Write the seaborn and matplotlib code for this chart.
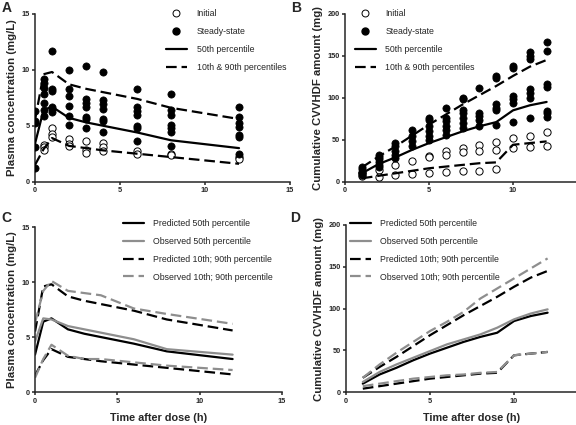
import matplotlib
matplotlib.use("Agg")
import matplotlib.pyplot as plt
from matplotlib.lines import Line2D
import seaborn as sns
import pandas as pd

# ---- panel A: plasma concentration, observed points ----
ss_conc_t = [0]*5 + [0.5]*7 + [1]*6 + [2]*6 + [3]*7 + [4]*7 + [6]*7 + [8]*7 + [12]*7
ss_conc = [6.3, 5.4, 5.2, 3.1, 1.2,
           9.2, 8.8, 8.4, 7.8, 7.0, 6.4, 5.9,
           11.7, 8.3, 8.1, 6.7, 6.5, 6.2,
           10.0, 8.3, 7.7, 6.8, 5.9, 5.1,
           10.3, 7.4, 7.0, 6.7, 5.8, 5.6, 4.8,
           9.8, 7.3, 6.9, 6.5, 5.6, 5.4, 4.4,
           8.3, 6.7, 6.3, 6.0, 5.0, 4.8, 3.6,
           7.8, 6.4, 6.0, 5.1, 4.8, 4.4, 3.2,
           6.7, 5.8, 5.2, 4.9, 4.2, 4.0, 2.5]
init_conc_t = [0.5]*3 + [1]*3 + [2]*3 + [3]*3 + [4]*3 + [6]*2 + [8]*2 + [12]*2
init_conc = [3.3, 3.1, 2.8,
             4.8, 4.3, 4.0,
             3.8, 3.4, 3.2,
             3.6, 2.8, 2.6,
             3.5, 3.1, 2.7,
             2.7, 2.5,
             2.5, 2.4,
             2.2, 2.0]

# predicted / observed percentiles for concentration
conc_t = [0, 0.5, 1, 2, 3, 4, 6, 8, 12]
pred_conc_p50 = [3.4, 6.4, 6.7, 5.7, 5.3, 5.0, 4.4, 3.7, 3.0]
pred_conc_p90 = [5.5, 9.6, 9.8, 8.7, 8.3, 8.0, 7.4, 6.6, 5.6]
pred_conc_p10 = [1.5, 2.9, 3.9, 3.2, 3.0, 2.8, 2.5, 2.2, 1.6]
obs_conc_p50 = [4.6, 6.7, 6.6, 6.0, 5.7, 5.4, 4.8, 3.9, 3.4]
obs_conc_p90 = [6.3, 9.2, 10.1, 9.2, 9.0, 8.8, 7.6, 7.1, 6.2]
obs_conc_p10 = [1.3, 3.0, 4.3, 3.3, 3.0, 3.0, 2.7, 2.4, 2.0]

# ---- panel B: cumulative CVVHDF amount, observed points ----
ss_amt_t = [1]*5 + [2]*6 + [3]*5 + [4]*4 + [5]*6 + [6]*6 + [7]*7 + [8]*5 + [9]*6 + [10]*6 + [11]*7 + [12]*7
ss_amt = [18, 15, 12, 10, 8,
          32, 30, 27, 24, 20, 17,
          46, 42, 36, 32, 28,
          61, 54, 48, 42,
          76, 74, 66, 60, 54, 50,
          88, 76, 72, 66, 62, 56,
          100, 98, 86, 82, 76, 70, 64,
          112, 82, 78, 74, 66,
          126, 124, 92, 88, 86, 68,
          138, 136, 102, 98, 94, 71,
          154, 150, 146, 110, 106, 100, 76,
          167, 156, 116, 113, 84, 82, 77]
init_amt_t = [1]*2 + [2]*2 + [3]*2 + [4]*2 + [5]*3 + [6]*3 + [7]*3 + [8]*3 + [9]*3 + [10]*2 + [11]*2 + [12]*2
init_amt = [10, 7,
            14, 6,
            20, 8,
            25, 9,
            31, 29, 10,
            36, 32, 11,
            40, 35, 13,
            44, 37, 13,
            47, 38, 15,
            52, 40,
            55, 41,
            59, 42]

amt_t = [1, 2, 3, 4, 5, 6, 7, 8, 9, 10, 11, 12]
pred_amt_p50 = [10, 21, 29, 38, 46, 53, 60, 66, 71, 85, 91, 95]
pred_amt_p90 = [17, 30, 42, 55, 68, 80, 92, 103, 114, 126, 137, 145]
pred_amt_p10 = [4, 7, 10, 13, 16, 18, 20, 22, 23, 44, 46, 48]
obs_amt_p50 = [12, 24, 33, 41, 49, 57, 63, 69, 77, 87, 94, 99]
obs_amt_p90 = [17, 33, 47, 60, 73, 84, 96, 112, 124, 136, 148, 160]
obs_amt_p10 = [7, 10, 13, 16, 18, 20, 21, 23, 24, 44, 46, 48]

sns.set_style("ticks")
plt.rcParams['font.family'] = ['Liberation Sans', 'DejaVu Sans']

GRAY = "#8e8e8e"
DASH = (0, (4.8, 2.2))
LW = 1.6

fig = plt.figure(figsize=(5.76, 4.25), dpi=100)
axA = fig.add_axes([0.0608, 0.5725, 0.4427, 0.395])
axB = fig.add_axes([0.599, 0.5725, 0.4375, 0.395])
axC = fig.add_axes([0.0608, 0.0776, 0.4288, 0.388])
axD = fig.add_axes([0.6007, 0.0776, 0.4375, 0.393])


def style_axis(ax, ymax, ystep, ylabel, xticks, xlabel=None):
    ax.set_xlim(0, 15)
    ax.set_ylim(0, ymax)
    ax.set_xticks(xticks)
    ax.set_yticks(range(0, ymax + 1, ystep))
    sns.despine(ax=ax)
    for s in ["left", "bottom"]:
        ax.spines[s].set_linewidth(1.1)
    ax.tick_params(width=1.1, length=2.5, labelsize=5.3, pad=1.5)
    for lab in ax.get_xticklabels() + ax.get_yticklabels():
        lab.set_fontweight("bold")
    ax.set_ylabel(ylabel, fontsize=8.2, fontweight="bold", labelpad=3)
    if xlabel:
        ax.set_xlabel(xlabel, fontsize=7.8, fontweight="bold", labelpad=6)
    else:
        ax.set_xlabel("")


def draw_obs_panel(ax, st, sv, it, iv, t, p50, p10, p90):
    sns.scatterplot(x=it, y=iv, ax=ax, marker="o", s=27, color="white",
                    edgecolor="black", linewidth=0.7, zorder=3)
    sns.scatterplot(x=st, y=sv, ax=ax, marker="o", s=27, color="black",
                    edgecolor="black", linewidth=0.5, zorder=3)
    sns.lineplot(x=t, y=p50, ax=ax, color="black", lw=LW, sort=False, zorder=4)
    sns.lineplot(x=t, y=p90, ax=ax, color="black", lw=LW, linestyle=DASH, sort=False, zorder=4)
    sns.lineplot(x=t, y=p10, ax=ax, color="black", lw=LW, linestyle=DASH, sort=False, zorder=4)


def draw_cmp_panel(ax, t, pp50, pp10, pp90, op50, op10, op90):
    sns.lineplot(x=t, y=pp50, ax=ax, color="black", lw=LW, sort=False)
    sns.lineplot(x=t, y=op50, ax=ax, color=GRAY, lw=LW, sort=False)
    sns.lineplot(x=t, y=pp90, ax=ax, color="black", lw=LW, linestyle=DASH, sort=False)
    sns.lineplot(x=t, y=pp10, ax=ax, color="black", lw=LW, linestyle=DASH, sort=False)
    sns.lineplot(x=t, y=op90, ax=ax, color=GRAY, lw=LW, linestyle=DASH, sort=False)
    sns.lineplot(x=t, y=op10, ax=ax, color=GRAY, lw=LW, linestyle=DASH, sort=False)


draw_obs_panel(axA, ss_conc_t, ss_conc, init_conc_t, init_conc, conc_t,
               pred_conc_p50, pred_conc_p10, pred_conc_p90)
draw_obs_panel(axB, ss_amt_t, ss_amt, init_amt_t, init_amt, amt_t,
               pred_amt_p50, pred_amt_p10, pred_amt_p90)
draw_cmp_panel(axC, conc_t, pred_conc_p50, pred_conc_p10, pred_conc_p90,
               obs_conc_p50, obs_conc_p10, obs_conc_p90)
draw_cmp_panel(axD, amt_t, pred_amt_p50, pred_amt_p10, pred_amt_p90,
               obs_amt_p50, obs_amt_p10, obs_amt_p90)

style_axis(axA, 15, 5, "Plasma concentration (mg/L)", [0, 5, 10, 15])
style_axis(axB, 200, 50, "Cumulative CVVHDF amount (mg)", [0, 5, 10])
style_axis(axC, 15, 5, "Plasma concentration (mg/L)", [0, 5, 10, 15], "Time after dose (h)")
style_axis(axD, 200, 50, "Cumulative CVVHDF amount (mg)", [0, 5, 10], "Time after dose (h)")

obs_handles = [
    Line2D([], [], ls="", marker="o", ms=5, mfc="white", mec="black", mew=0.7),
    Line2D([], [], ls="", marker="o", ms=5, mfc="black", mec="black"),
    Line2D([], [], color="black", lw=LW),
    Line2D([], [], color="black", lw=LW, ls=DASH),
]
obs_labels = ["Initial", "Steady-state", "50th percentile", "10th & 90th percentiles"]
cmp_handles = [
    Line2D([], [], color="black", lw=LW),
    Line2D([], [], color=GRAY, lw=LW),
    Line2D([], [], color="black", lw=LW, ls=DASH),
    Line2D([], [], color=GRAY, lw=LW, ls=DASH),
]
cmp_labels = ["Predicted 50th percentile", "Observed 50th percentile",
              "Predicted 10th; 90th percentile", "Observed 10th; 90th percentile"]

leg_kw = dict(frameon=False, fontsize=6.3, loc="upper left", borderpad=0,
              borderaxespad=0, handlelength=2.4, handletextpad=1.1,
              labelspacing=1.0, bbox_transform=fig.transFigure)
fig.legend(obs_handles, obs_labels, bbox_to_anchor=(0.288, 0.978), **leg_kw)
fig.legend(obs_handles, obs_labels, bbox_to_anchor=(0.616, 0.978), **leg_kw)
fig.legend(cmp_handles, cmp_labels, bbox_to_anchor=(0.213, 0.484), **leg_kw)
fig.legend(cmp_handles, cmp_labels, bbox_to_anchor=(0.607, 0.484), **leg_kw)

for lab, x, y in [("A", 0.003, 0.998), ("B", 0.505, 0.998),
                  ("C", 0.003, 0.503), ("D", 0.503, 0.503)]:
    fig.text(x, y, lab, fontsize=10, fontweight="bold", ha="left", va="top")

fig.savefig("out.png", dpi=100)
